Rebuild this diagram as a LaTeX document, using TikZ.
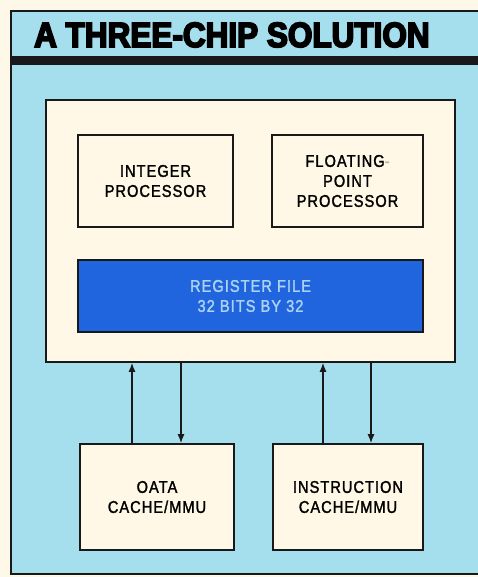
\documentclass[tikz,border=0pt]{standalone}
\usepackage{fontspec}
\setmainfont{Liberation Sans}
\newfontfamily\titlefont[FakeStretch=0.9,FakeBold=5]{Liberation Sans Bold}
\newfontfamily\boxfont[FakeStretch=0.86,LetterSpace=6,FakeBold=1.6]{Liberation Sans}
\usepackage{tikz}
\usetikzlibrary{arrows.meta,positioning,calc}
\definecolor{paper}{RGB}{253,248,232}
\definecolor{panel}{RGB}{165,222,236}
\definecolor{boxfill}{RGB}{255,248,230}
\definecolor{regblue}{RGB}{32,100,222}
\definecolor{regtext}{RGB}{172,212,242}
\definecolor{ink}{RGB}{25,25,28}
\tikzset{
  unit/.style={draw=ink,line width=1.8pt,fill=boxfill,align=center,
    font=\boxfont\fontsize{17}{20}\selectfont,inner sep=0pt},
  regfile/.style={unit,fill=regblue,text=regtext},
  flow/.style={-{Latex[length=9pt,width=7pt]},line width=1.1pt,draw=ink}
}

\begin{document}
\begin{tikzpicture}[x=1pt,y=-1pt]
  \useasboundingbox (0,0) rectangle (478,577);
  \fill[paper] (0,0) rectangle (478,577);
  % panel and title band
  \fill[panel] (11,11) rectangle (478,574);
  \draw[ink,line width=1.6pt] (478,11) -- (11,11) -- (11,574) -- (478,574);
  \fill[ink] (11,56) rectangle (478,65);
  \node[anchor=base west,inner sep=0pt,font=\titlefont\fontsize{35}{35}\selectfont]
    (title) at (34,47) {A THREE-CHIP SOLUTION};
  % the processor chip
  \node[unit,minimum width=409pt,minimum height=262pt] (chip) at (250.5,231) {};
  \node[unit,minimum width=155pt,minimum height=92pt] (integer) at (155.5,181)
    {INTEGER\\PROCESSOR};
  \node[unit,minimum width=151pt,minimum height=92pt] (fpu) at (347.5,181)
    {FLOATING\textcolor{black!30}{-}\\POINT\\PROCESSOR};
  \node[regfile,minimum width=345pt,minimum height=72pt] (regs) at (250.5,296)
    {REGISTER FILE\\32 BITS BY 32};
  % the two caches
  \node[unit,minimum width=154pt,minimum height=106pt] (dcache) at (157,497)
    {OATA\\CACHE/MMU};
  \node[unit,minimum width=150pt,minimum height=106pt] (icache) at (348,497)
    {INSTRUCTION\\CACHE/MMU};
  \draw[flow] ([xshift=-25pt]dcache.north) -- ([xshift=-25pt]dcache.north |- chip.south);
  \draw[flow] ([xshift=24pt]dcache.north |- chip.south) -- ([xshift=24pt]dcache.north);
  \draw[flow] ([xshift=-25pt]icache.north) -- ([xshift=-25pt]icache.north |- chip.south);
  \draw[flow] ([xshift=23pt]icache.north |- chip.south) -- ([xshift=23pt]icache.north);
\end{tikzpicture}
\end{document}
